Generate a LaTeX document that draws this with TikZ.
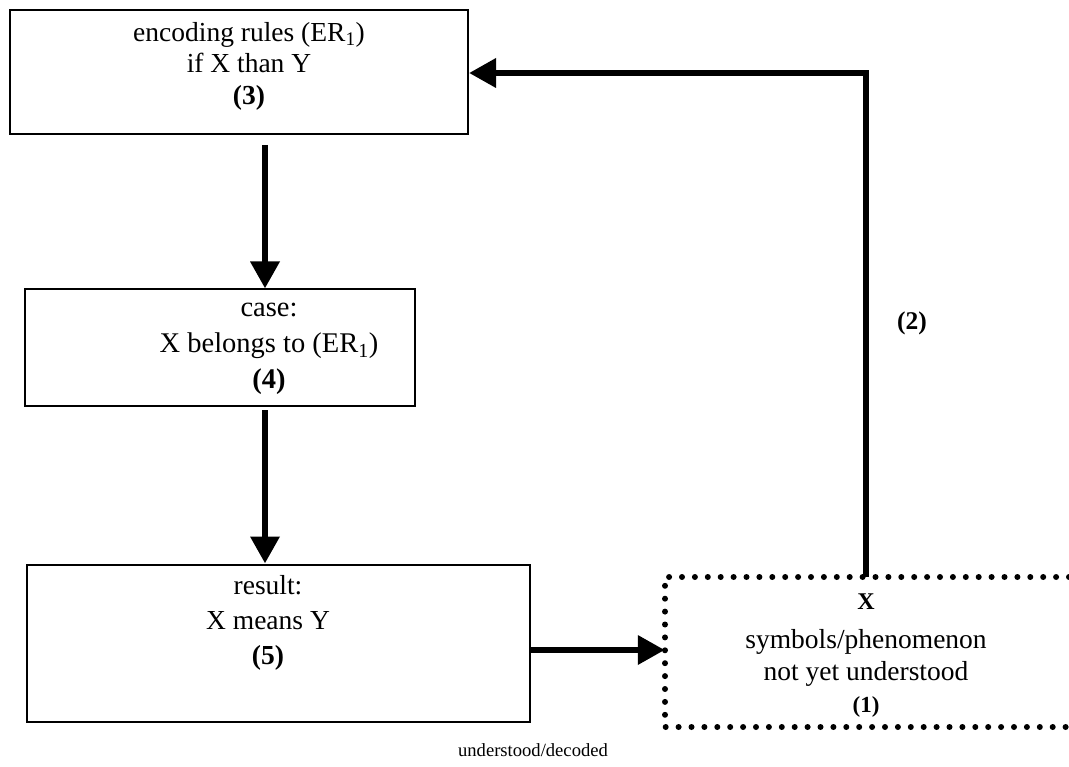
\documentclass[tikz,border=0pt]{standalone}
\usepackage{fontspec}
\setmainfont{Liberation Serif}
\usetikzlibrary{arrows.meta}
\begin{document}
\begin{tikzpicture}[x=1pt,y=-1pt,
  box/.style={draw,line width=2pt,rectangle,inner sep=0pt},
  txt/.style={align=center,font=\fontsize{27.5}{32}\selectfont,inner sep=0pt},
  small/.style={align=center,font=\fontsize{18.6}{23}\selectfont,inner sep=0pt},
  conn/.style={line width=6.5pt,-{Triangle[length=27pt,width=28pt]}},
  dots/.style={line width=6pt,line cap=round,dash pattern=on 0pt off 12.9pt}]
\useasboundingbox (0,0) rectangle (1069,767);
% boxes
\node[box,minimum width=458pt,minimum height=124pt] (b3) at (239,72) {};
\node[box,minimum width=390pt,minimum height=117pt] (b4) at (220,348) {};
\node[box,minimum width=503pt,minimum height=157pt] (b5) at (278,643) {};
\node[minimum width=406pt,minimum height=150pt,inner sep=0pt] (b1) at (868,652) {};
\draw[dots] (1069,577) -- (665,577) -- (665,727) -- (1069,727);
% texts
\node[txt,font=\fontsize{27.5}{31.5}\selectfont] (t3) at (249,66) {encoding rules (ER\textsubscript{1})\\if X than Y\\\textbf{(3)}};
\node[txt,font=\fontsize{28.5}{36}\selectfont] (t4) at (269,349) {case:\\X belongs to (ER\textsubscript{1})\\\textbf{(4)}};
\node[txt,font=\fontsize{27.5}{35}\selectfont] (t5) at (268,623) {result:\\X means Y\\\textbf{(5)}};
\node[txt,font=\fontsize{24}{28}\selectfont] (t1a) at (866,602) {\textbf{X}};
\node[txt] (t1) at (866,658) {symbols/phenomenon\\not yet understood};
\node[txt,font=\fontsize{23}{28}\selectfont] (t1b) at (866,707) {\textbf{(1)}};
\node[small] (ud) at (533,750) {understood/decoded};
\node[txt,font=\fontsize{25.5}{30}\selectfont] (l2) at (912,323) {\textbf{(2)}};
% connectors
\coordinate (c2) at (866,73);
\draw[conn] (b3.south -| 265,0) ++(0,10) -- (b4.north -| 265,0);
\draw[conn] (b4.south -| 265,0) ++(0,3) -- (b5.north -| 265,0);
\draw[conn] (b5.east |- 0,650) -- (b1.west |- 0,650);
\draw[conn] (b1.north -| c2) -- (c2) -- (b3.east |- c2);
\end{tikzpicture}
\end{document}
